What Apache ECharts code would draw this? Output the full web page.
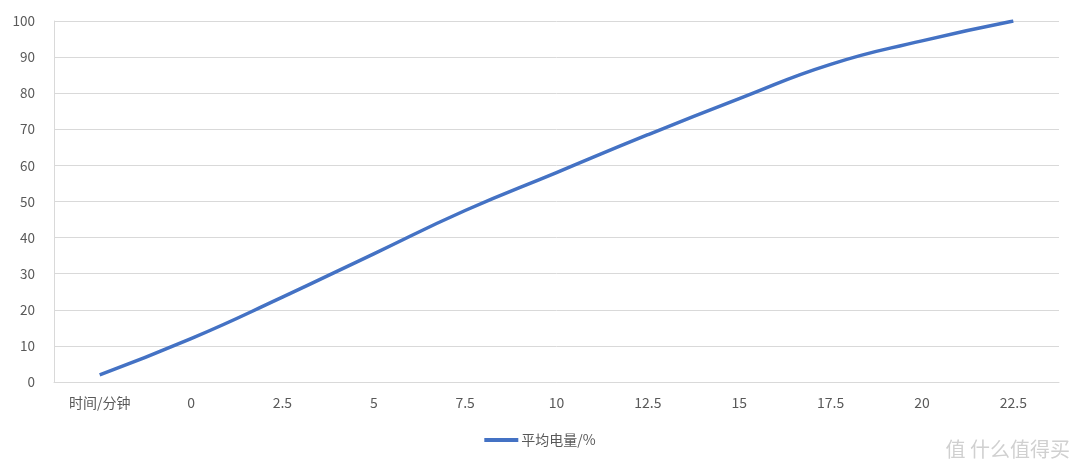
<!DOCTYPE html>
<html>
<head>
<meta charset="utf-8">
<script src="https://cdn.jsdelivr.net/npm/echarts@6/dist/echarts.min.js"></script>
<style>
  html, body { margin: 0; padding: 0; background: #fff; }
  #chart { width: 1080px; height: 469px; }
</style>
</head>
<body>
<div id="chart"></div>
<script>
// 横轴类别（第一个是表头）
var times = ['时间/分钟', '0', '2.5', '5', '7.5', '10', '12.5', '15', '17.5', '20', '22.5'];
// 平均电量 %
var power = [2, 12, 23.5, 35.5, 47.5, 58, 68.5, 78.5, 88, 94.5, 100];

var chart = echarts.init(document.getElementById('chart'));

var opt = {
    animation: false,
    textStyle: { fontFamily: 'Noto Sans CJK SC, Open Sans, sans-serif' },
    grid: { left: 54, right: 21, top: 21, bottom: 87 },
    legend: {
        bottom: 17,
        left: 'center',
        itemWidth: 34,
        itemHeight: 4,
        itemGap: 4,
        icon: 'rect',
        textStyle: { color: '#595959', fontSize: 14, padding: [0, 0, 0, -2] },
        data: ['平均电量/%']
    },
    xAxis: {
        type: 'category',
        data: times,
        boundaryGap: true,
        axisLine: { lineStyle: { color: '#d9d9d9' } },
        axisTick: { show: false },
        axisLabel: { color: '#595959', fontSize: 14, margin: 14, interval: 0 }
    },
    yAxis: {
        type: 'value',
        min: 0,
        max: 100,
        interval: 10,
        axisLine: { show: true, lineStyle: { color: '#d9d9d9' } },
        axisTick: { show: false },
        axisLabel: { color: '#595959', fontSize: 13.5, margin: 19 },
        splitLine: { lineStyle: { color: '#d9d9d9' } }
    },
    graphic: [{
        type: 'text',
        right: 10,
        bottom: 10,
        style: { text: '值 什么值得买', fill: '#d0d0d0', fontSize: 20, fontFamily: 'Noto Sans CJK SC' }
    }],
    series: [{
        name: '平均电量/%',
        type: 'line',
        data: power,
        smooth: 0.5,
        showSymbol: false,
        symbol: 'none',
        itemStyle: { color: '#4472c4' },
        lineStyle: { color: '#4472c4', width: 3.5 }
    }]
};

chart.setOption(opt);
</script>
</body>
</html>
